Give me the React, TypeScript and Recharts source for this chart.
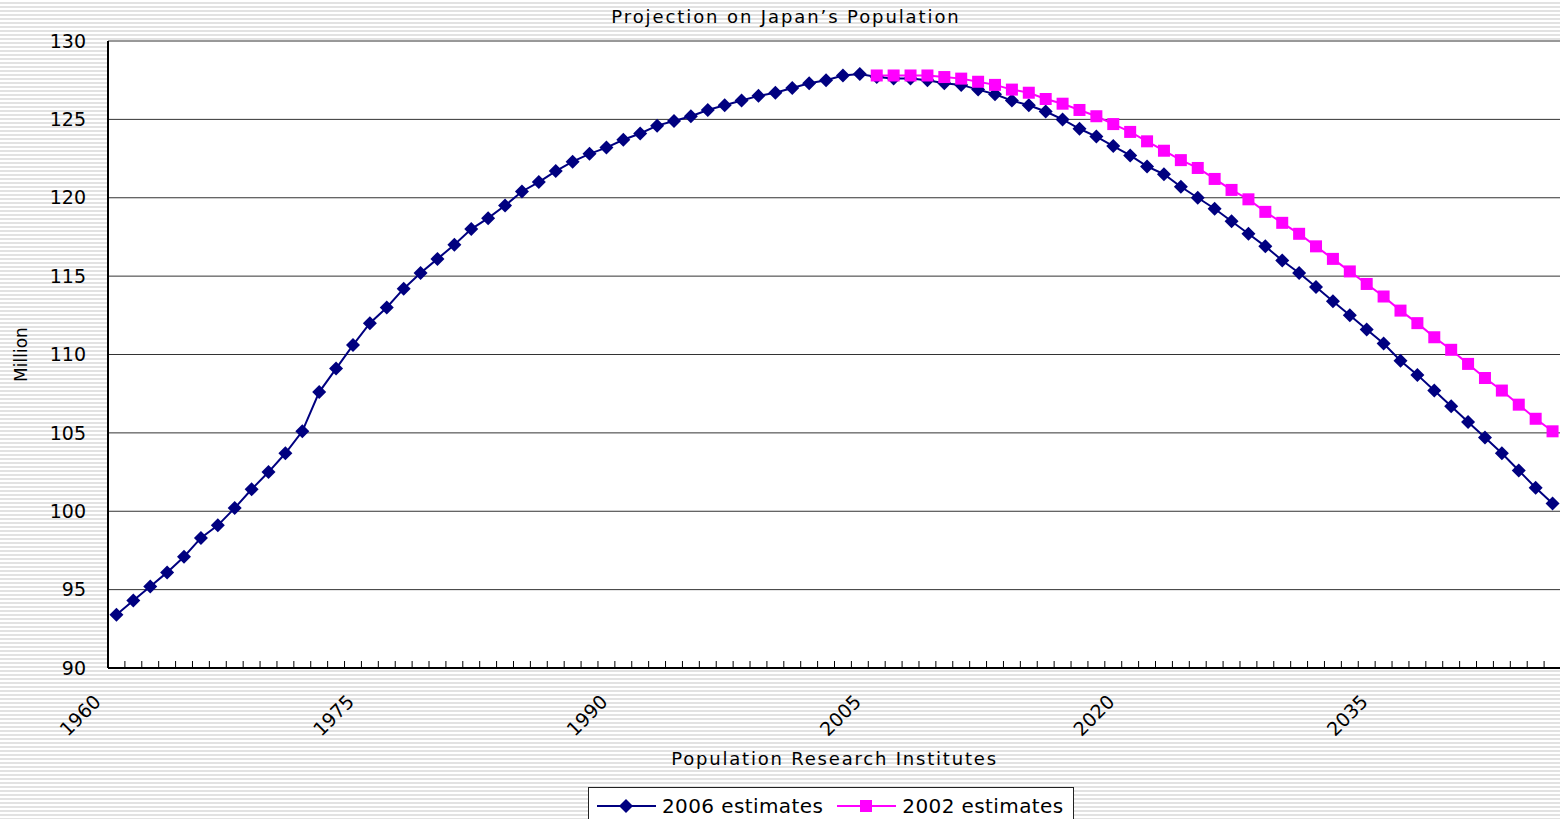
import React from 'react'
import { CartesianGrid, Legend, Line, LineChart, XAxis, YAxis } from 'recharts'

// population, million
const FIRST_YEAR = 1960
const EST_2006 = [
  93.4, 94.3, 95.2, 96.1, 97.1, 98.3, 99.1, 100.2, 101.4, 102.5,
  103.7, 105.1, 107.6, 109.1, 110.6, 112.0, 113.0, 114.2, 115.2, 116.1,
  117.0, 118.0, 118.7, 119.5, 120.4, 121.0, 121.7, 122.3, 122.8, 123.2,
  123.7, 124.1, 124.6, 124.9, 125.2, 125.6, 125.9, 126.2, 126.5, 126.7,
  127.0, 127.3, 127.5, 127.8, 127.9, 127.7, 127.6, 127.6, 127.5, 127.3,
  127.2, 126.9, 126.6, 126.2, 125.9, 125.5, 125.0, 124.4, 123.9, 123.3,
  122.7, 122.0, 121.5, 120.7, 120.0, 119.3, 118.5, 117.7, 116.9, 116.0,
  115.2, 114.3, 113.4, 112.5, 111.6, 110.7, 109.6, 108.7, 107.7, 106.7,
  105.7, 104.7, 103.7, 102.6, 101.5, 100.5,
]
const EST_2002_FIRST_YEAR = 2005
const EST_2002 = [
  127.8, 127.8, 127.8, 127.8, 127.7, 127.6, 127.4, 127.2, 126.9, 126.7,
  126.3, 126.0, 125.6, 125.2, 124.7, 124.2, 123.6, 123.0, 122.4, 121.9,
  121.2, 120.5, 119.9, 119.1, 118.4, 117.7, 116.9, 116.1, 115.3, 114.5,
  113.7, 112.8, 112.0, 111.1, 110.3, 109.4, 108.5, 107.7, 106.8, 105.9,
  105.1,
]
const LABEL_YEARS = [1960, 1975, 1990, 2005, 2020, 2035]
const Y_TICKS = [90, 95, 100, 105, 110, 115, 120, 125, 130]

const NAVY = '#000080'
const MAGENTA = '#ff00ff'
const FONT = '"DejaVu Sans", Verdana, sans-serif'

const years = EST_2006.map((_, i) => FIRST_YEAR + i)
const rows = years.map((year, i) => {
  const j = year - EST_2002_FIRST_YEAR
  return {
    year,
    est2006: EST_2006[i],
    est2002: j >= 0 && j < EST_2002.length ? EST_2002[j] : null,
  }
})
// category boundaries, ticks sit between the years
const boundaries = [...years.map(y => y - 0.5), years[years.length - 1] + 0.5]

function Diamond({ cx, cy, fill, r = 7 }: any) {
  if (cx == null || cy == null) return <g />
  return (
    <polygon
      points={`${cx},${cy - r} ${cx + r},${cy} ${cx},${cy + r} ${cx - r},${cy}`}
      fill={fill}
    />
  )
}

function Square({ cx, cy, fill, s = 12 }: any) {
  if (cx == null || cy == null) return <g />
  return <rect x={cx - s / 2} y={cy - s / 2} width={s} height={s} fill={fill} />
}

function YearTick({ x, y, payload }: any) {
  const year = payload.value + 0.5
  const lx = x - 6
  const ly = y + 35
  return (
    <g>
      <line x1={x} x2={x} y1={y} y2={y - 7} stroke="#000" strokeWidth={1} />
      {LABEL_YEARS.includes(year) && (
        <text
          x={lx}
          y={ly}
          transform={`rotate(-45 ${lx} ${ly})`}
          textAnchor="end"
          fontFamily={FONT}
          fontSize={19}
          fill="#000"
        >
          {year}
        </text>
      )}
    </g>
  )
}

function LegendBox() {
  const text = { fontFamily: FONT, fontSize: 20, letterSpacing: 0.4, color: '#000' }
  return (
    <div
      style={{
        width: 486,
        height: 38,
        border: '1px solid #222',
        background: '#fff',
        display: 'flex',
        alignItems: 'center',
        paddingLeft: 8,
        boxSizing: 'border-box',
      }}
    >
      <svg width={59} height={20}>
        <line x1={0} x2={59} y1={10} y2={10} stroke={NAVY} strokeWidth={2} />
        <Diamond cx={29} cy={10} fill={NAVY} />
      </svg>
      <span style={{ ...text, marginLeft: 6 }}>2006 estimates</span>
      <svg width={59} height={20} style={{ marginLeft: 14 }}>
        <line x1={0} x2={59} y1={10} y2={10} stroke={MAGENTA} strokeWidth={2} />
        <Square cx={29} cy={10} fill={MAGENTA} />
      </svg>
      <span style={{ ...text, marginLeft: 6 }}>2002 estimates</span>
    </div>
  )
}

export default function App() {
  return (
    <div
      style={{
        position: 'absolute',
        left: 0,
        top: 0,
        width: 1560,
        height: 819,
        overflow: 'hidden',
        background:
          'repeating-linear-gradient(to bottom, #ffffff 0px, #ffffff 2.5px, #e2e2e2 2.5px, #e2e2e2 4px)',
      }}
    >
      <div
        style={{
          position: 'absolute',
          top: 6,
          left: 786,
          transform: 'translateX(-50%)',
          whiteSpace: 'nowrap',
          fontFamily: FONT,
          fontSize: 18,
          letterSpacing: 1.9,
          lineHeight: '22px',
          zIndex: 2,
        }}
      >
        Projection on Japan’s Population
      </div>
      <LineChart
        width={1561}
        height={819}
        data={rows}
        margin={{ top: 41, right: 0, left: 0, bottom: 0 }}
      >
        <CartesianGrid
          horizontal
          vertical={false}
          stroke="#333"
          strokeWidth={1}
          fill="#fff"
          fillOpacity={1}
        />
        <XAxis
          dataKey="year"
          type="number"
          domain={[boundaries[0], boundaries[boundaries.length - 1]]}
          ticks={boundaries}
          interval={0}
          height={151}
          tickSize={0}
          tickMargin={0}
          tickLine={false}
          axisLine={{ stroke: '#000', strokeWidth: 2 }}
          tick={<YearTick />}
          label={{
            value: 'Population Research Institutes',
            position: 'insideBottom',
            offset: 54,
            style: { fontFamily: FONT, fontSize: 18, letterSpacing: 1.8, fill: '#000' },
          }}
        />
        <YAxis
          domain={[90, 130]}
          ticks={Y_TICKS}
          width={108}
          tickSize={0}
          tickMargin={22}
          tickLine={false}
          axisLine={{ stroke: '#000', strokeWidth: 2 }}
          tick={{ fontFamily: FONT, fontSize: 19, fill: '#000' }}
          label={{
            value: 'Million',
            angle: -90,
            position: 'insideLeft',
            offset: 21,
            style: { fontFamily: FONT, fontSize: 17, fill: '#000', textAnchor: 'middle' },
          }}
        />
        <Legend
          layout="horizontal"
          verticalAlign="middle"
          align="center"
          wrapperStyle={{ left: 588, top: 787 }}
          content={() => <LegendBox />}
        />
        <Line
          dataKey="est2006"
          name="2006 estimates"
          stroke={NAVY}
          strokeWidth={2}
          dot={(p: any) => <Diamond key={`a${p.index}`} cx={p.cx} cy={p.cy} fill={NAVY} />}
          isAnimationActive={false}
        />
        <Line
          dataKey="est2002"
          name="2002 estimates"
          stroke={MAGENTA}
          strokeWidth={2}
          dot={(p: any) => <Square key={`b${p.index}`} cx={p.cx} cy={p.cy} fill={MAGENTA} />}
          isAnimationActive={false}
        />
      </LineChart>
    </div>
  )
}
